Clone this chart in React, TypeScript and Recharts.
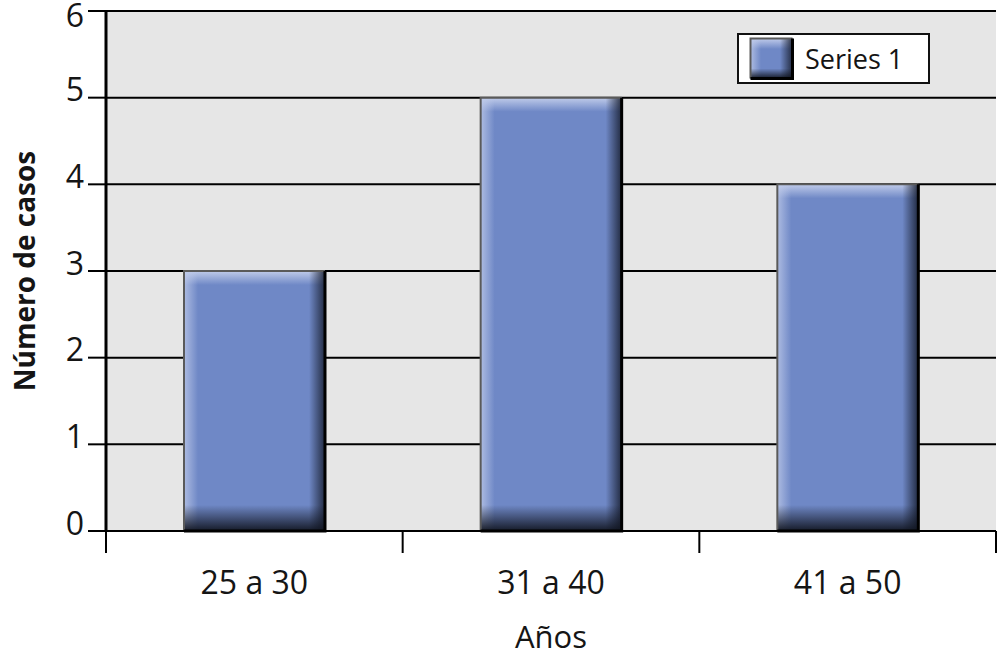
import React from "react";
import { BarChart, Bar, XAxis, YAxis, CartesianGrid } from "recharts";

const categories = ["25 a 30", "31 a 40", "41 a 50"];
const series1 = [3, 5, 4];
const yTicks = [0, 1, 2, 3, 4, 5, 6];

const data = categories.map((name, i) => ({ name, value: series1[i] }));

const font = "'Open Sans', 'Noto Sans', sans-serif";
const ink = "#151515";
const barBase = "#6f88c6";

const plotLeft = 106;
const plotRight = 996;
const band = (plotRight - plotLeft) / categories.length;

function BevelDefs() {
  return (
    <defs>
      <linearGradient id="bvTop" x1="0" y1="0" x2="0" y2="1">
        <stop offset="0%" stopColor="#c9d3ee" stopOpacity={0.9} />
        <stop offset="100%" stopColor="#c9d3ee" stopOpacity={0} />
      </linearGradient>
      <linearGradient id="bvLeft" x1="0" y1="0" x2="1" y2="0">
        <stop offset="0%" stopColor="#c2cdeb" stopOpacity={0.75} />
        <stop offset="100%" stopColor="#c2cdeb" stopOpacity={0} />
      </linearGradient>
      <linearGradient id="bvRight" x1="0" y1="0" x2="1" y2="0">
        <stop offset="0%" stopColor="#141a2a" stopOpacity={0} />
        <stop offset="100%" stopColor="#141a2a" stopOpacity={0.85} />
      </linearGradient>
      <linearGradient id="bvBottom" x1="0" y1="0" x2="0" y2="1">
        <stop offset="0%" stopColor="#10141f" stopOpacity={0} />
        <stop offset="100%" stopColor="#10141f" stopOpacity={0.95} />
      </linearGradient>
    </defs>
  );
}

function BevelBar(props: any) {
  const { x, y, width, height } = props;
  if (!height || height <= 0) return null;
  const edge = Math.min(14, width / 4);
  const foot = Math.min(26, height / 4);
  return (
    <g>
      <BevelDefs />
      <rect x={x} y={y} width={width} height={height} fill={barBase} />
      <rect x={x} y={y} width={width} height={edge} fill="url(#bvTop)" />
      <rect x={x} y={y} width={edge} height={height} fill="url(#bvLeft)" />
      <rect x={x + width - edge - 2} y={y} width={edge + 2} height={height} fill="url(#bvRight)" />
      <rect x={x} y={y + height - foot} width={width} height={foot} fill="url(#bvBottom)" />
      <path d={`M${x},${y + height} L${x},${y} L${x + width},${y}`} stroke="#5a5a5a" strokeWidth={2} fill="none" />
      <path d={`M${x + width},${y} L${x + width},${y + height} L${x},${y + height}`} stroke="#000" strokeWidth={3} fill="none" />
    </g>
  );
}

function YTick(props: any) {
  const { x, y, payload } = props;
  return (
    <text x={x - 2} y={Math.max(y - 8, 15)} dy="0.36em" textAnchor="end" fontFamily={font} fontSize={32} fill={ink}>
      {payload.value}
    </text>
  );
}

function XTick(props: any) {
  const { x, y, payload, index } = props;
  const last = index === categories.length - 1;
  return (
    <g>
      <line x1={x - band / 2} x2={x - band / 2} y1={y} y2={y + 22} stroke="#000" strokeWidth={2} />
      {last && <line x1={x + band / 2} x2={x + band / 2} y1={y} y2={y + 22} stroke="#000" strokeWidth={2} />}
      <text x={x} y={y + 63} textAnchor="middle" fontFamily={font} fontSize={32} fill={ink}>
        {payload.value}
      </text>
    </g>
  );
}

function LegendBox() {
  return (
    <div
      style={{
        position: "absolute",
        left: 737,
        top: 33,
        display: "flex",
        alignItems: "center",
        width: 193,
        height: 51,
        boxSizing: "border-box",
        border: "2px solid #111",
        background: "#fff",
        paddingLeft: 10,
      }}
    >
      <svg width={46} height={44} style={{ display: "block" }}>
        <BevelBar x={1.5} y={1.5} width={42} height={40} />
      </svg>
      <span style={{ fontFamily: font, fontSize: 27, color: ink, marginLeft: 10 }}>Series 1</span>
    </div>
  );
}

export default function App() {
  return (
    <div style={{ position: "absolute", left: 0, top: 0, width: 999, height: 654, background: "#fff" }}>
      <BarChart
        width={999}
        height={654}
        data={data}
        margin={{ top: 11, right: 3, left: 0, bottom: 0 }}
        barSize={141}
      >
        <CartesianGrid vertical={false} stroke="#000" strokeWidth={2} fill="#e6e6e6" strokeOpacity={1} />
        <XAxis
          dataKey="name"
          height={123}
          axisLine={{ stroke: "#000", strokeWidth: 2 }}
          tickLine={false}
          tickSize={0}
          tickMargin={0}
          tick={<XTick />}
          interval={0}
          label={{ value: "Años", position: "insideBottom", offset: 6, fontFamily: font, fontSize: 31, fill: ink }}
        />
        <YAxis
          width={106}
          domain={[0, 6]}
          ticks={yTicks}
          interval={0}
          axisLine={{ stroke: "#000", strokeWidth: 3 }}
          tickLine={{ stroke: "#000", strokeWidth: 2 }}
          tickSize={18}
          tick={<YTick />}
          label={{
            value: "Número de casos",
            angle: -90,
            position: "insideLeft",
            offset: 25,
            style: { textAnchor: "middle", fontFamily: font, fontSize: 28, fontWeight: 700, fill: ink },
          }}
        />
        <Bar dataKey="value" name="Series 1" fill={barBase} shape={<BevelBar />} isAnimationActive={false} />
      </BarChart>
      <LegendBox />
    </div>
  );
}
